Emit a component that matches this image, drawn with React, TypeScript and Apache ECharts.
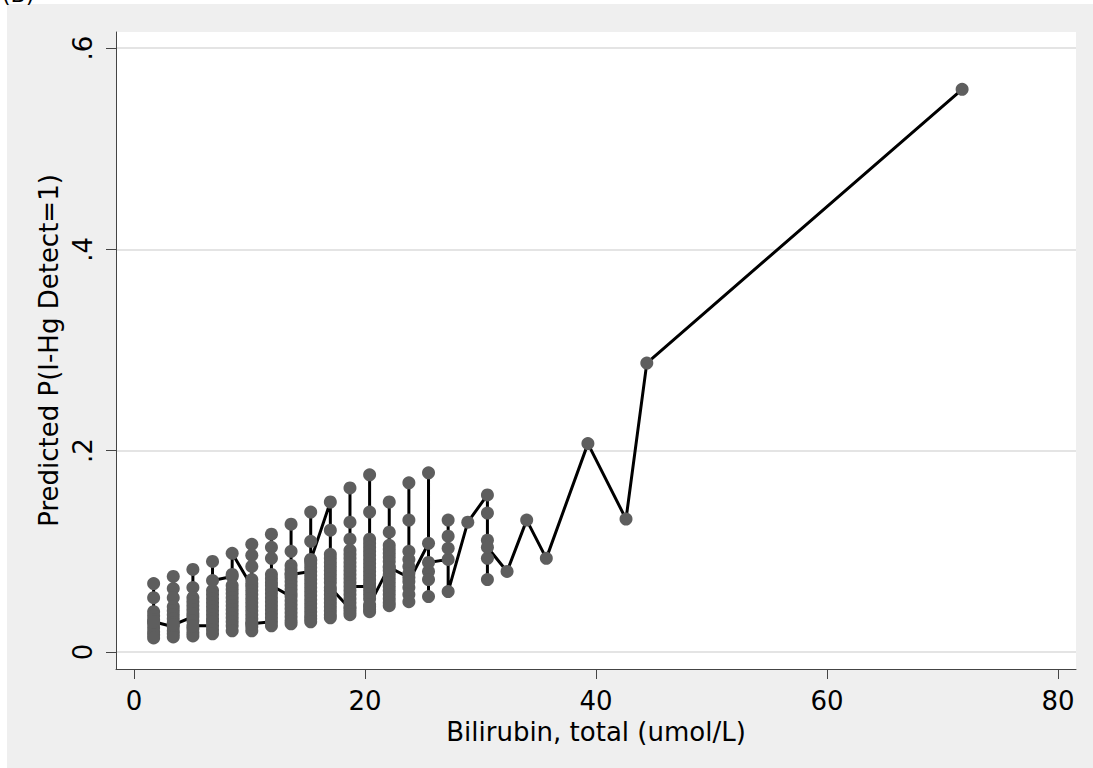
import React, { useEffect, useRef } from "react";
import * as echarts from "echarts";

// Bilirubin column positions (umol/L)
const bilirubin = [1.7, 3.4, 5.1, 6.8, 8.5, 10.2, 11.9, 13.6, 15.3, 17.0, 18.7, 20.4, 22.1, 23.8, 25.5, 27.2, 28.9, 30.6, 32.3, 34.0, 35.7, 39.3, 42.6, 44.4, 71.7];

// Predicted probabilities at each bilirubin value, in the order the connecting line visits them
const predicted: number[][] = [
  [0.068, 0.054, 0.040, 0.036, 0.032, 0.028, 0.024, 0.020, 0.017, 0.014, 0.030],
  [0.025, 0.075, 0.063, 0.054, 0.045, 0.041, 0.037, 0.033, 0.029, 0.021, 0.018, 0.015, 0.027],
  [0.035, 0.082, 0.064, 0.054, 0.050, 0.046, 0.042, 0.038, 0.031, 0.023, 0.019, 0.016, 0.026],
  [0.026, 0.090, 0.061, 0.057, 0.053, 0.049, 0.045, 0.041, 0.037, 0.033, 0.030, 0.022, 0.018, 0.071],
  [0.075, 0.066, 0.062, 0.058, 0.054, 0.050, 0.046, 0.042, 0.038, 0.034, 0.030, 0.026, 0.021, 0.077, 0.098],
  [0.065, 0.107, 0.096, 0.085, 0.072, 0.068, 0.061, 0.057, 0.053, 0.049, 0.045, 0.041, 0.037, 0.033, 0.029, 0.025, 0.021, 0.028],
  [0.030, 0.117, 0.104, 0.093, 0.077, 0.073, 0.069, 0.062, 0.058, 0.054, 0.050, 0.046, 0.042, 0.038, 0.034, 0.026, 0.066],
  [0.055, 0.127, 0.100, 0.086, 0.082, 0.078, 0.074, 0.070, 0.066, 0.062, 0.058, 0.051, 0.047, 0.043, 0.039, 0.035, 0.031, 0.028, 0.077],
  [0.080, 0.139, 0.110, 0.092, 0.088, 0.084, 0.076, 0.072, 0.068, 0.064, 0.060, 0.056, 0.052, 0.048, 0.044, 0.040, 0.036, 0.033, 0.030, 0.091],
  [0.149, 0.121, 0.097, 0.093, 0.089, 0.085, 0.081, 0.077, 0.073, 0.069, 0.061, 0.057, 0.053, 0.049, 0.045, 0.041, 0.037, 0.034, 0.064],
  [0.043, 0.163, 0.129, 0.112, 0.101, 0.097, 0.093, 0.089, 0.085, 0.081, 0.077, 0.073, 0.069, 0.061, 0.057, 0.053, 0.049, 0.045, 0.040, 0.037, 0.065],
  [0.065, 0.176, 0.139, 0.112, 0.108, 0.104, 0.100, 0.096, 0.092, 0.088, 0.084, 0.080, 0.076, 0.072, 0.068, 0.061, 0.057, 0.053, 0.045, 0.042, 0.040, 0.047],
  [0.085, 0.149, 0.119, 0.106, 0.102, 0.098, 0.094, 0.090, 0.081, 0.077, 0.073, 0.069, 0.065, 0.061, 0.057, 0.053, 0.049, 0.046, 0.084],
  [0.074, 0.168, 0.131, 0.100, 0.092, 0.085, 0.078, 0.064, 0.057, 0.050, 0.070],
  [0.108, 0.178, 0.080, 0.072, 0.055, 0.089],
  [0.092, 0.131, 0.115, 0.103, 0.060],
  [0.129],
  [0.156, 0.138, 0.111, 0.093, 0.072, 0.104],
  [0.080],
  [0.131],
  [0.093],
  [0.207],
  [0.132],
  [0.287],
  [0.559],
];

const xTicks = [0, 20, 40, 60, 80];
const yTicks = [0, 0.2, 0.4, 0.6];
const yTickLabels = ["0", ".2", ".4", ".6"];

const xTitle = "Bilirubin, total (umol/L)";
const yTitle = "Predicted P(I-Hg Detect=1)";
const panelLabel = "(B)";

const FONT = "DejaVu Sans";

export default function App() {
  const ref = useRef<HTMLDivElement>(null);

  useEffect(() => {
    if (!ref.current) return;
    const chart = echarts.init(ref.current, undefined, { renderer: "svg" });

    const points: number[][] = [];
    bilirubin.forEach((x, i) => {
      predicted[i].forEach((y) => points.push([x, y]));
    });

    chart.setOption({
      animation: false,
      backgroundColor: "#ffffff",
      textStyle: { fontFamily: FONT },
      graphic: [
        {
          type: "rect",
          z: -10,
          silent: true,
          shape: { x: 7, y: 4, width: 1086, height: 764 },
          style: { fill: "#efefef" },
        },
        {
          type: "text",
          left: 2,
          top: -17,
          silent: true,
          style: { text: panelLabel, font: `22px '${FONT}'`, fill: "#000" },
        },
      ],
      grid: {
        left: 116,
        right: 17,
        top: 32,
        bottom: 99,
        show: true,
        backgroundColor: "#ffffff",
        borderWidth: 0,
      },
      xAxis: {
        type: "value",
        min: -1.558,
        max: 81.56,
        name: xTitle,
        nameLocation: "middle",
        nameGap: 43,
        nameTextStyle: { fontSize: 26, color: "#000", fontFamily: FONT },
        axisLine: { show: true, onZero: false, lineStyle: { color: "#444", width: 1 } },
        axisTick: { show: true, length: 10, customValues: xTicks, lineStyle: { color: "#444", width: 1 } },
        axisLabel: {
          customValues: xTicks,
          margin: 19,
          fontSize: 26,
          color: "#000",
          fontFamily: FONT,
          formatter: (v: number) => String(v),
        },
        splitLine: { show: false },
      },
      yAxis: {
        type: "value",
        min: -0.0169,
        max: 0.6159,
        name: yTitle,
        nameLocation: "middle",
        nameGap: 49,
        nameTextStyle: { fontSize: 26, color: "#000", fontFamily: FONT },
        axisLine: { show: true, onZero: false, lineStyle: { color: "#444", width: 1 } },
        axisTick: { show: true, length: 10, customValues: yTicks, lineStyle: { color: "#444", width: 1 } },
        axisLabel: {
          customValues: yTicks,
          rotate: 90,
          margin: 20,
          fontSize: 26,
          color: "#000",
          fontFamily: FONT,
          formatter: (v: number) => {
            const idx = yTicks.findIndex((t) => Math.abs(t - v) < 1e-9);
            return idx >= 0 ? yTickLabels[idx] : "";
          },
        },
        splitLine: { show: true, lineStyle: { color: "#e4e4e4", width: 2 } },
      },
      series: [
        {
          type: "line",
          data: points,
          symbol: "circle",
          symbolSize: 13,
          showSymbol: true,
          itemStyle: { color: "#5e5e5e" },
          lineStyle: { color: "#000", width: 3 },
          emphasis: { disabled: true },
        },
      ],
    });

    return () => chart.dispose();
  }, []);

  return (
    <div
      ref={ref}
      style={{ position: "fixed", left: 0, top: 0, width: 1093, height: 768 }}
    />
  );
}
